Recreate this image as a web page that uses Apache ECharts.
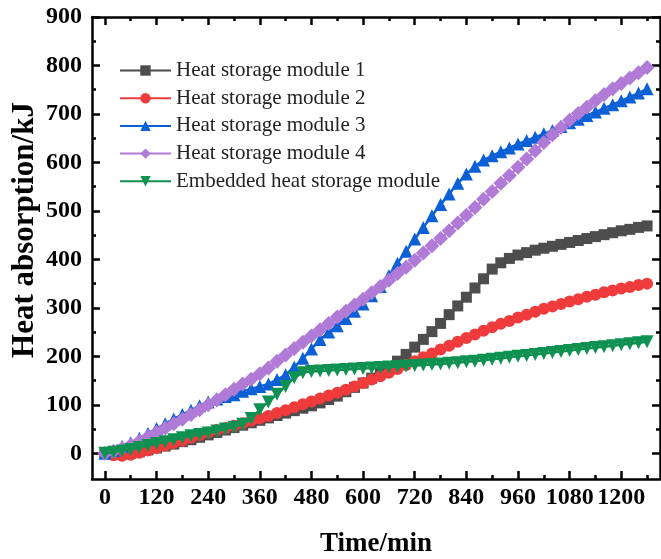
<!DOCTYPE html>
<html>
<head>
<meta charset="utf-8">
<script src="https://cdn.jsdelivr.net/npm/echarts@6/dist/echarts.min.js"></script>
<style>
  html, body { margin: 0; padding: 0; background: #fff; }
  #chart { width: 661px; height: 559px; }
</style>
</head>
<body>
<div id="chart"></div>
<script>
// Time (min)
const timeMin = [0,20,40,60,80,100,120,140,160,180,200,220,240,260,280,300,320,340,360,380,400,420,440,460,480,500,520,540,560,580,600,620,640,660,680,700,720,740,760,780,800,820,840,860,880,900,920,940,960,980,1000,1020,1040,1060,1080,1100,1120,1140,1160,1180,1200,1220,1240,1260];

// Heat absorption (kJ)
const module1 = [0,-2,-2,0,3,7,11,15,19,24,28,33,38,43,48,53,58,63,68,73,78,83,88,93,98,104,111,118,127,136,145,155,165,177,190,204,219,235,251,268,286,304,322,341,360,380,393,402,409,414,419,423,427,431,435,439,443,447,451,455,459,462,466,469];
const module2 = [0,-4,-5,-3,1,6,11,16,21,26,32,38,43,48,52,57,62,67,72,77,83,89,95,101,107,113,119,125,131,138,145,152,159,166,174,182,190,198,206,214,222,230,238,245,253,260,267,273,280,286,292,298,303,308,313,318,323,327,332,336,340,343,347,350];
const module3 = [0,6,14,22,31,41,51,61,71,80,89,98,106,112,117,121,128,133,138,143,152,162,178,196,215,235,250,263,278,293,308,325,344,367,392,417,442,466,490,513,535,557,576,592,605,614,622,630,638,645,652,659,666,674,682,689,697,704,712,719,727,735,743,752];
const module4 = [0,4,10,17,25,34,43,52,61,70,80,90,100,110,121,132,143,153,164,176,190,203,216,229,242,255,268,281,293,306,318,331,344,357,371,384,398,413,428,443,459,475,491,507,524,540,557,573,590,607,624,641,657,672,687,701,714,727,740,752,763,774,785,796];
const embedded = [0,2,5,8,12,16,20,24,28,32,36,39,42,46,50,54,60,72,90,106,122,138,156,166,169,170,171,172,173,174,175,176,177,178,179,180,181,182,183,184,186,187,189,190,192,194,196,198,200,202,204,206,208,210,212,214,216,218,220,222,224,226,228,230];

const seriesNames = ['Heat storage module 1','Heat storage module 2','Heat storage module 3','Heat storage module 4','Embedded heat storage module'];
const seriesColors = ['#4d4d4d','#ef3b3b','#0b60d6','#b07bd7','#0f9152'];

// Tick positions
const xMajor = [0,120,240,360,480,600,720,840,960,1080,1200];
const xMinor = [60,180,300,420,540,660,780,900,1020,1140,1260];
const yMajor = [0,100,200,300,400,500,600,700,800,900];
const yMinor = [50,150,250,350,450,550,650,750,850];

const FONT = 'Liberation Serif';
const chart = echarts.init(document.getElementById('chart'), null, { renderer: 'canvas' });

function pairs(values) { return timeMin.map((t, i) => [t, values[i]]); }

const lineW = 2.5;
const tickLabel = {
  show: true, fontFamily: FONT, fontWeight: 'bold', fontSize: 24, color: '#000',
  hideOverlap: false, showMinLabel: true, showMaxLabel: true,
  formatter: v => String(v)
};
function xAxisDef(pos, ticks, len, withLine, withLabel) {
  return {
    type: 'value', position: pos, min: -30, max: 1290, gridIndex: 0,
    axisLine: { show: withLine, onZero: false, lineStyle: { color: '#000', width: lineW } },
    axisTick: { show: true, inside: true, length: len, customValues: ticks, lineStyle: { color: '#000', width: lineW } },
    axisLabel: withLabel ? Object.assign({}, tickLabel, { customValues: ticks, margin: 7 }) : { show: false },
    splitLine: { show: false }
  };
}
function yAxisDef(pos, ticks, len, withLine, withLabel) {
  return {
    type: 'value', position: pos, min: -53, max: 900, gridIndex: 0,
    axisLine: { show: withLine, onZero: false, lineStyle: { color: '#000', width: lineW } },
    axisTick: { show: true, inside: true, length: len, customValues: ticks, lineStyle: { color: '#000', width: lineW } },
    axisLabel: withLabel ? Object.assign({}, tickLabel, { customValues: ticks, margin: 10 }) : { show: false },
    splitLine: { show: false }
  };
}

const symbols = [
  { symbol: 'rect', size: 11, rotate: 0 },
  { symbol: 'circle', size: 12, rotate: 0 },
  { symbol: 'triangle', size: 13, rotate: 0 },
  { symbol: 'diamond', size: 15, rotate: 0 },
  { symbol: 'triangle', size: 13, rotate: 180 }
];
const dataSets = [module1, module2, module3, module4, embedded];

chart.setOption({
  animation: false,
  backgroundColor: '#fff',
  grid: { left: 92, right: 1, top: 17, bottom: 80, containLabel: false },
  xAxis: [
    xAxisDef('bottom', xMajor, 8, true, true),
    xAxisDef('bottom', xMinor, 4, false, false),
    xAxisDef('top', xMajor, 8, true, false),
    xAxisDef('top', xMinor, 4, false, false)
  ],
  yAxis: [
    yAxisDef('left', yMajor, 8, true, true),
    yAxisDef('left', yMinor, 4, false, false),
    yAxisDef('right', yMajor, 8, true, false),
    yAxisDef('right', yMinor, 4, false, false)
  ],
  legend: {
    orient: 'vertical', left: 114, top: 55,
    itemWidth: 51, itemHeight: 13, itemGap: 6.7,
    data: seriesNames,
    textStyle: { fontFamily: FONT, fontSize: 21, color: '#222', lineHeight: 20 }
  },
  series: dataSets.map((d, i) => ({
    name: seriesNames[i], type: 'line', xAxisIndex: 0, yAxisIndex: 0,
    data: pairs(d),
    symbol: symbols[i].symbol, symbolSize: symbols[i].size, symbolRotate: symbols[i].rotate,
    showAllSymbol: true,
    itemStyle: { color: seriesColors[i] },
    lineStyle: { color: seriesColors[i], width: 2.5 },
    z: 2 + i
  })),
  graphic: [
    { type: 'text', x: 25, y: 230, rotation: Math.PI / 2,
      style: { text: 'Heat absorption/kJ', fontFamily: FONT, fontWeight: 'bold', fontSize: 31, fill: '#000', align: 'center', verticalAlign: 'middle' } },
    { type: 'text', x: 376, y: 544,
      style: { text: 'Time/min', fontFamily: FONT, fontWeight: 'bold', fontSize: 27, fill: '#000', align: 'center', verticalAlign: 'middle' } }
  ]
});
</script>
</body>
</html>
